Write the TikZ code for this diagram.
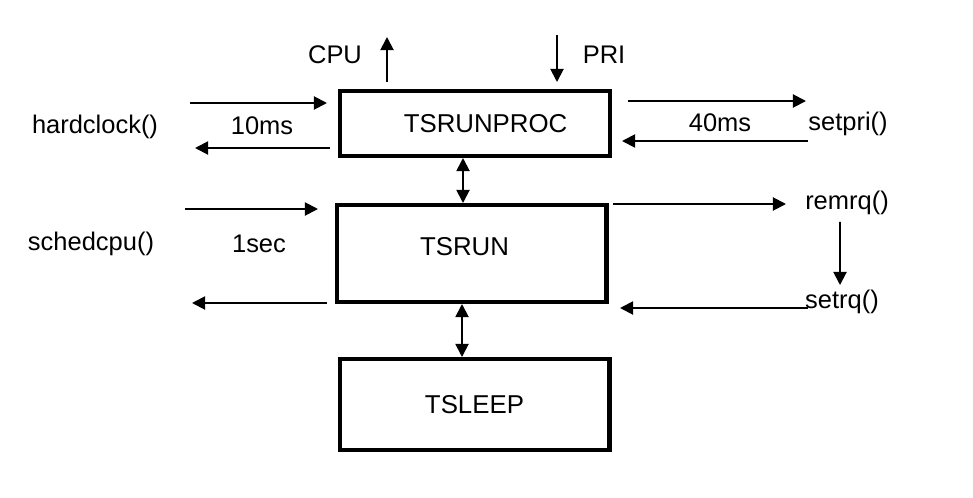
\documentclass[tikz,border=0pt]{standalone}
\usepackage{fontspec}
\setmainfont{Liberation Sans}
\usetikzlibrary{arrows.meta}
\usetikzlibrary{positioning}
\tikzset{
  state/.style={draw, line width=2.3pt, minimum width=5.4cm, inner sep=0pt, font=\fontsize{14.7}{16}\selectfont},
  lbl/.style={inner sep=1pt, font=\fontsize{14.5}{16}\selectfont},
  flow/.style={line width=1.1pt, -{Triangle[length=7.5pt,width=7.5pt]}},
  twoway/.style={line width=1.1pt, {Triangle[length=7.5pt,width=7.5pt]}-{Triangle[length=7.5pt,width=7.5pt]}}
}

\begin{document}
\begin{tikzpicture}[x=0.02cm, y=-0.02cm]
\useasboundingbox (0,0) rectangle (973,497);
% states
\node[state, minimum height=1.3cm]  (runproc) at (475,123.5) {\hspace*{12pt}\raisebox{-5.7pt}{TSRUNPROC}};
\node[state, minimum height=1.94cm] (run)     at (471.5,253.5) {\raisebox{8pt}{TSRUN}\hspace*{8pt}};
\node[state, minimum height=1.82cm] (sleep)   at (474.5,404.5) {TSLEEP};
\draw[twoway] ([xshift=-0.24cm]runproc.south) -- ([xshift=-0.24cm]runproc.south |- run.north);
\draw[twoway] ([xshift=-0.19cm]run.south) -- ([xshift=-0.19cm]run.south |- sleep.north);
% labels
\node[lbl] (cpu)   at (335,55)  {CPU};
\node[lbl] (pri)   at (604,55)  {PRI};
\node[lbl] (hclk)  at (95,127)  {hardclock()};
\node[lbl] (tenms) at (262,126) {10ms};
\node[lbl] (ftyms) at (720,123) {40ms};
\node[lbl] (spri)  at (848,124) {setpri()};
\node[lbl] (sched) at (91,244)  {schedcpu()};
\node[lbl] (onesec) at (259,244) {1sec};
\node[lbl] (remrq) at (847,203) {remrq()};
\node[lbl] (setrq) at (842,302) {setrq()};
% free ends
\coordinate (cpuA) at (387,82);  \coordinate (cpuB) at (387,37);
\coordinate (priA) at (557,35);  \coordinate (priB) at (557,82);
\coordinate (h1) at (190,103); \coordinate (h2) at (327,103);
\coordinate (h3) at (330,148); \coordinate (h4) at (195,148);
\coordinate (p1) at (628,101); \coordinate (p2) at (806,101);
\coordinate (p3) at (808,141); \coordinate (p4) at (622,141);
\coordinate (s1) at (185,209); \coordinate (s2) at (318,209);
\coordinate (s3) at (327,303); \coordinate (s4) at (192,303);
\coordinate (r1) at (613,204); \coordinate (r2) at (786,204);
\coordinate (q1) at (808,308); \coordinate (q2) at (620,308);
\draw[flow] (cpuA) -- (cpuB);
\draw[flow] (priA) -- (priB);
\draw[flow] (h1) -- (h2);
\draw[flow] (h3) -- (h4);
\draw[flow] (p1) -- (p2);
\draw[flow] (p3) -- (p4);
\draw[flow] (s1) -- (s2);
\draw[flow] (s3) -- (s4);
\draw[flow] (r1) -- (r2);
\draw[flow] (q1) -- (q2);
\draw[flow] ([xshift=-0.14cm,yshift=-0.1cm]remrq.south) -- ([xshift=-0.04cm,yshift=0.06cm]setrq.north);
\end{tikzpicture}
\end{document}
